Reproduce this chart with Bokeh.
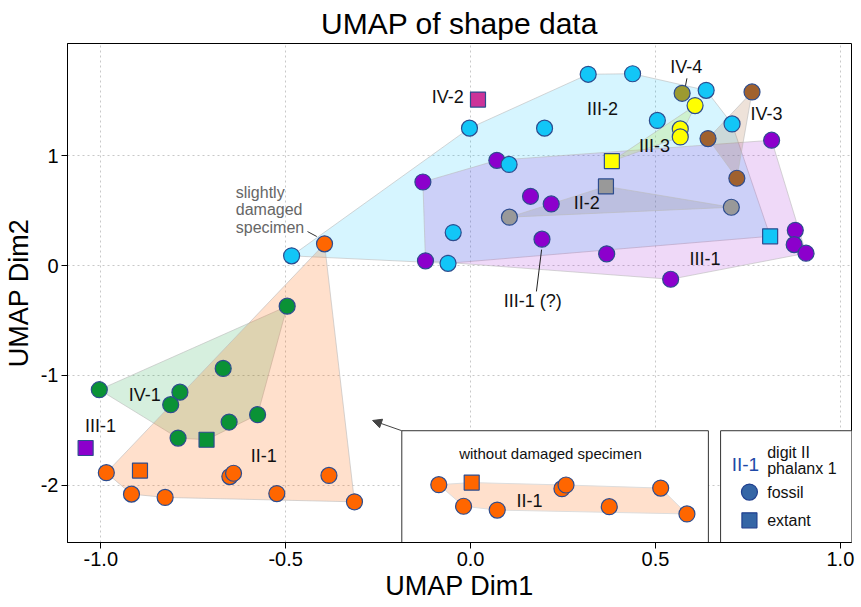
import numpy as np
from bokeh.plotting import figure
from bokeh.models import Range1d, FixedTicker, NumeralTickFormatter, Arrow, NormalHead
from bokeh.core.properties import value
from bokeh.embed import file_html
from bokeh.resources import INLINE

# ---------------- data (UMAP Dim1, Dim2) ----------------
# II-1 (digit II phalanx 1) - orange
ii1_fos_x = [-0.985, -0.651, -0.641, -0.383, -0.917, -0.826, -0.524, -0.314, -0.395]
ii1_fos_y = [-1.885, -1.920, -1.890, -1.910, -2.080, -2.110, -2.075, -2.150, 0.197]
ii1_ext_x = [-0.894]
ii1_ext_y = [-1.866]
# IV-1 - green
iv1_fos_x = [-0.496, -0.669, -1.004, -0.786, -0.811, -0.576, -0.653, -0.791]
iv1_fos_y = [-0.370, -0.936, -1.130, -1.152, -1.266, -1.357, -1.424, -1.570]
iv1_ext_x = [-0.714]
iv1_ext_y = [-1.585]
# III-2 - cyan
iii2_fos_x = [0.318, 0.438, 0.637, 0.505, 0.707, -0.003, 0.200, 0.104, -0.047, -0.484, -0.061]
iii2_fos_y = [1.740, 1.745, 1.594, 1.320, 1.288, 1.250, 1.250, 0.920, 0.300, 0.088, 0.020]
iii2_ext_x = [0.810]
iii2_ext_y = [0.266]
# III-1 - purple
iii1_fos_x = [0.071, -0.129, 0.162, 0.218, 0.193, -0.122, 0.814, 0.878, 0.875, 0.907, 0.368, 0.541]
iii1_fos_y = [0.957, 0.760, 0.630, 0.560, 0.240, 0.043, 1.140, 0.320, 0.190, 0.112, 0.106, -0.125]
iii1_ext_x = [-1.041]
iii1_ext_y = [-1.660]
# II-2 - grey
ii2_fos_x = [0.105, 0.705]
ii2_fos_y = [0.440, 0.530]
ii2_ext_x = [0.366]
ii2_ext_y = [0.720]
# III-3 - yellow
iii3_fos_x = [0.607, 0.567, 0.567]
iii3_fos_y = [1.455, 1.243, 1.170]
iii3_ext_x = [0.382]
iii3_ext_y = [0.950]
# IV-3 - brown
iv3_fos_x = [0.761, 0.642, 0.720]
iv3_fos_y = [1.579, 1.155, 0.794]
# IV-4 - olive
iv4_fos_x = [0.572]
iv4_fos_y = [1.567]
# IV-2 - magenta (extant)
iv2_ext_x = [0.020]
iv2_ext_y = [1.510]
# inset: II-1 without damaged specimen (drawn in inset box)
ins_fos_x = [-0.086, -0.019, 0.072, 0.247, 0.258, 0.375, 0.514, 0.585]
ins_fos_y = [-1.994, -2.190, -2.225, -2.030, -1.997, -2.194, -2.025, -2.260]
ins_ext_x = [0.003]
ins_ext_y = [-1.975]

x_ticks = [-1.0, -0.5, 0.0, 0.5, 1.0]
y_ticks = [-2, -1, 0, 1]

# colours
C_OR, C_GR, C_CY, C_PU = "#FF6600", "#0A9236", "#12C6F7", "#8C00CC"
C_GY, C_YE, C_BR, C_OL, C_MA = "#999999", "#FFFF00", "#A0612E", "#9C9A30", "#CC3399"
EDGE = "#2D4C8E"
FONT = value("Liberation Sans")


def hull(xs, ys):
    pts = sorted(set(zip(xs, ys)))
    if len(pts) < 3:
        return [q[0] for q in pts], [q[1] for q in pts]

    def cross(o, a, b):
        return (a[0] - o[0]) * (b[1] - o[1]) - (a[1] - o[1]) * (b[0] - o[0])
    lower, upper = [], []
    for q in pts:
        while len(lower) >= 2 and cross(lower[-2], lower[-1], q) <= 0:
            lower.pop()
        lower.append(q)
    for q in reversed(pts):
        while len(upper) >= 2 and cross(upper[-2], upper[-1], q) <= 0:
            upper.pop()
        upper.append(q)
    h = lower[:-1] + upper[:-1]
    return [q[0] for q in h], [q[1] for q in h]


p = figure(frame_width=784, frame_height=499,
           x_range=Range1d(-1.09, 1.03), y_range=Range1d(-2.52, 2.02),
           output_backend="svg", toolbar_location=None,
           title="UMAP of shape data",
           min_border_left=62, min_border_right=6, min_border_top=9, min_border_bottom=6)
p.title.align = "center"
p.title.text_font = "Liberation Sans"
p.title.text_font_size = "30px"
p.title.text_font_style = "normal"
p.title.text_color = "black"
p.title.standoff = 8

p.outline_line_color = "black"
p.outline_line_width = 1
for ax in (p.xaxis[0], p.yaxis[0]):
    ax.axis_line_color = "black"
    ax.major_tick_line_color = "black"
    ax.major_tick_out = 6
    ax.major_tick_in = 0
    ax.minor_tick_line_color = None
    ax.major_label_text_font = "Liberation Sans"
    ax.major_label_text_font_size = "20px"
    ax.major_label_text_color = "black"
    ax.major_label_standoff = 3
    ax.axis_label_text_font = "Liberation Sans"
    ax.axis_label_text_font_size = "27px"
    ax.axis_label_text_font_style = "normal"
    ax.axis_label_text_color = "black"
p.xaxis.ticker = FixedTicker(ticks=x_ticks)
p.yaxis.ticker = FixedTicker(ticks=y_ticks)
p.xaxis.formatter = NumeralTickFormatter(format="0.0")
p.yaxis.formatter = NumeralTickFormatter(format="0")
p.xaxis.axis_label = "UMAP Dim1"
p.yaxis.axis_label = "UMAP Dim2"
p.xaxis.axis_label_standoff = 2
p.yaxis.axis_label_standoff = 4
p.grid.grid_line_color = "#C8C8C8"
p.grid.grid_line_dash = "2 3"
p.grid.grid_line_width = 1

# hulls
hull_sets = [
    (iii2_fos_x + iii2_ext_x, iii2_fos_y + iii2_ext_y, "#00BFFF", 0.16),
    (iii1_fos_x, iii1_fos_y, "#9400D3", 0.15),
    (ii2_fos_x + ii2_ext_x, ii2_fos_y + ii2_ext_y, "#777777", 0.18),
    (iii3_fos_x + iii3_ext_x, iii3_fos_y + iii3_ext_y, "#B8E840", 0.25),
    (iv3_fos_x, iv3_fos_y, "#A0612E", 0.18),
    (iv1_fos_x + iv1_ext_x, iv1_fos_y + iv1_ext_y, "#009933", 0.16),
    (ii1_fos_x + ii1_ext_x, ii1_fos_y + ii1_ext_y, "#FF6600", 0.20),
]
for hx, hy, col, a in hull_sets:
    xs, ys = hull(hx, hy)
    p.patch(xs, ys, fill_color=col, fill_alpha=a, line_color="#BBBBBB", line_alpha=0.6, line_width=1)

# inset box and legend box
p.quad(left=-0.186, right=0.643, top=-1.503, bottom=-2.60, fill_color="white",
       line_color="#333333", line_width=1)
p.quad(left=0.676, right=1.06, top=-1.503, bottom=-2.60, fill_color="white",
       line_color="#333333", line_width=1)
ix, iy = hull(ins_fos_x + ins_ext_x, ins_fos_y + ins_ext_y)
p.patch(ix, iy, fill_color="#FF6600", fill_alpha=0.2, line_color="#DDDDDD", line_width=1)

# leader lines
p.line([-0.441, -0.416], [0.309, 0.264], line_color="#333333", line_width=1)
p.line([0.192, 0.178], [0.145, -0.236], line_color="#222222", line_width=1)
p.line([0.585, 0.581], [1.703, 1.634], line_color="#222222", line_width=1)
p.add_layout(Arrow(end=NormalHead(size=9, fill_color="#444444", line_color="#444444"),
                   x_start=-0.186, y_start=-1.503, x_end=-0.265, y_end=-1.41,
                   line_color="#444444", line_width=1))

# points
point_sets = [
    (iii1_fos_x, iii1_fos_y, "circle", C_PU),
    (iii2_fos_x, iii2_fos_y, "circle", C_CY),
    (ii2_fos_x, ii2_fos_y, "circle", C_GY),
    (iv4_fos_x, iv4_fos_y, "circle", C_OL),
    (iii3_fos_x, iii3_fos_y, "circle", C_YE),
    (iv3_fos_x, iv3_fos_y, "circle", C_BR),
    (iv1_fos_x, iv1_fos_y, "circle", C_GR),
    (ii1_fos_x, ii1_fos_y, "circle", C_OR),
    (ins_fos_x, ins_fos_y, "circle", C_OR),
    (iii2_ext_x, iii2_ext_y, "square", C_CY),
    (iii1_ext_x, iii1_ext_y, "square", C_PU),
    (ii2_ext_x, ii2_ext_y, "square", C_GY),
    (iii3_ext_x, iii3_ext_y, "square", C_YE),
    (iv1_ext_x, iv1_ext_y, "square", C_GR),
    (ii1_ext_x, ii1_ext_y, "square", C_OR),
    (iv2_ext_x, iv2_ext_y, "square", C_MA),
    (ins_ext_x, ins_ext_y, "square", C_OR),
]
for sx, sy, mk, col in point_sets:
    p.scatter(sx, sy, marker=mk, size=16 if mk == "circle" else 15,
              fill_color=col, line_color=EDGE, line_width=1.2)

# group labels
lab_text = ["IV-2", "III-2", "IV-4", "IV-3", "III-3", "II-2", "III-1", "III-1 (?)",
            "IV-1", "III-1", "II-1", "II-1"]
lab_x = [-0.062, 0.357, 0.583, 0.800, 0.497, 0.314, 0.634, 0.168, -0.881, -1.001, -0.559, 0.159]
lab_y = [1.536, 1.427, 1.803, 1.375, 1.088, 0.566, 0.061, -0.327, -1.175, -1.457, -1.730, -2.139]
p.text(lab_x, lab_y, text=lab_text, text_font=FONT, text_font_size="18px",
       text_align="center", text_baseline="middle", text_color="#111111")

p.text([-0.635] * 3, [0.664, 0.506, 0.345], text=["slightly", "damaged", "specimen"],
       text_font=FONT, text_font_size="16px", text_align="left", text_baseline="middle",
       text_color="#666666")
p.text([0.216], [-1.706], text=["without damaged specimen"], text_font=FONT,
       text_font_size="15px", text_align="center", text_baseline="middle", text_color="#111111")

# legend (manual)
p.text([0.743], [-1.806], text=["II-1"], text_font=FONT, text_font_size="19px",
       text_align="center", text_baseline="middle", text_color="#1F4AA8")
p.text([0.802, 0.802, 0.802, 0.802], [-1.697, -1.843, -2.061, -2.318],
       text=["digit II", "phalanx 1", "fossil", "extant"], text_font=FONT,
       text_font_size="16px", text_align="left", text_baseline="middle", text_color="#111111")
p.scatter([0.754], [-2.061], marker="circle", size=16, fill_color="#3566A6",
          line_color="#1F3F8F", line_width=1.2)
p.scatter([0.754], [-2.318], marker="square", size=15, fill_color="#3566A6",
          line_color="#1F3F8F", line_width=1.2)

open("out.html", "w").write(file_html(p, INLINE))
